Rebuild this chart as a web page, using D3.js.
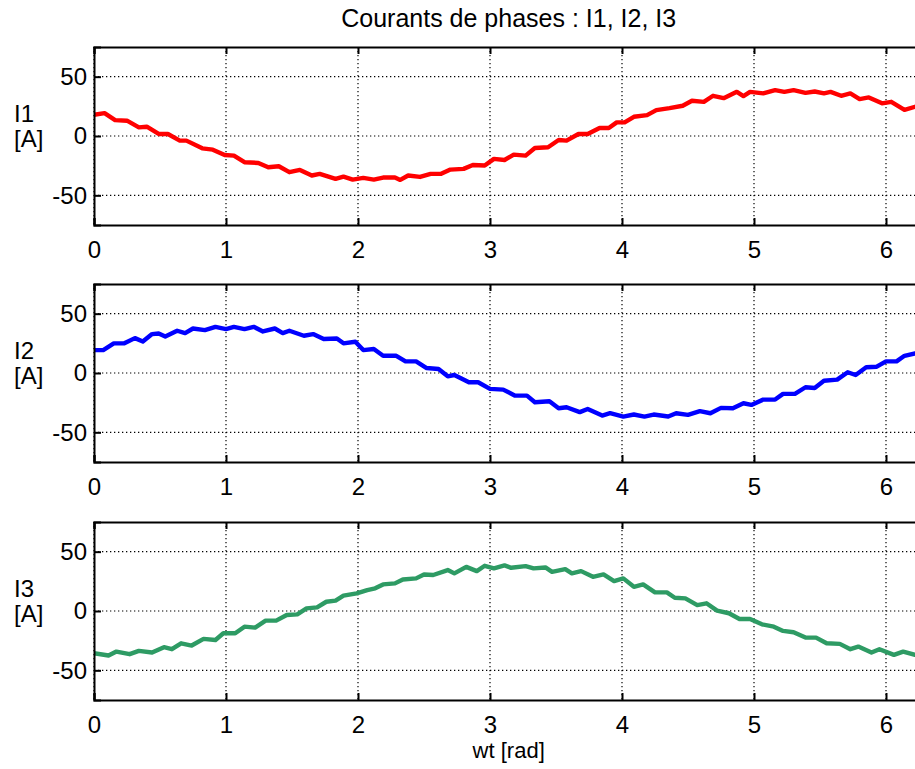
<!DOCTYPE html>
<html>
<head>
<meta charset="utf-8">
<script src="https://cdn.jsdelivr.net/npm/d3@7"></script>
<style>
  html, body { margin: 0; padding: 0; background: #fff; }
  svg { display: block; font-family: "Liberation Sans", Arial, Helvetica, sans-serif; }
</style>
</head>
<body>
<svg id="chart" width="915" height="769"></svg>
<script>
// ---- Data ----
const title = "Courants de phases : I1, I2, I3";
const xLabel = "wt [rad]";
const xTicks = [0, 1, 2, 3, 4, 5, 6];
const yTicks = [-50, 0, 50];
const seriesNames = ["I1", "I2", "I3"];
const unitLabel = "[A]";
const seriesColors = ["#ff0000", "#0000ff", "#2e9b64"];

const wt1 = [0.00,0.08,0.16,0.25,0.34,0.40,0.49,0.56,0.65,0.70,0.82,0.90,0.99,1.06,1.14,1.245,1.32,1.40,1.48,1.56,1.65,1.71,1.83,1.89,1.96,2.04,2.12,2.19,2.28,2.32,2.38,2.47,2.55,2.63,2.70,2.80,2.87,2.96,3.03,3.11,3.18,3.27,3.34,3.44,3.52,3.58,3.67,3.74,3.83,3.90,3.96,4.02,4.09,4.19,4.26,4.36,4.46,4.53,4.62,4.69,4.77,4.87,4.92,4.97,5.07,5.16,5.23,5.30,5.39,5.46,5.53,5.58,5.66,5.73,5.80,5.87,5.97,6.04,6.14,6.22,6.28];
const i1  = [17.9,19.3,13.4,12.9,7.3,7.8,1.7,1.7,-3.9,-3.9,-10.4,-11.5,-16.0,-16.5,-22.1,-22.7,-26.3,-25.5,-30.5,-28.6,-33.3,-31.9,-36.1,-34.2,-36.7,-35.3,-36.7,-35.0,-35.0,-37.0,-33.3,-34.5,-31.9,-31.9,-28.3,-27.7,-24.4,-24.9,-19.3,-20.2,-15.7,-16.5,-10.1,-9.5,-3.4,-3.9,1.7,1.7,6.7,6.7,11.5,11.5,16.2,17.6,21.8,23.5,25.5,29.7,28.8,33.9,31.9,37.2,33.6,37.2,35.9,38.7,37.2,38.7,36.4,37.5,35.9,37.2,33.9,35.9,31.1,32.5,27.5,28.8,22.1,24.6,24.0];

const wt2 = [0.00,0.07,0.15,0.23,0.31,0.37,0.44,0.49,0.54,0.63,0.69,0.75,0.84,0.92,1.00,1.06,1.14,1.21,1.28,1.37,1.43,1.48,1.59,1.66,1.74,1.84,1.89,1.98,2.04,2.12,2.19,2.29,2.36,2.44,2.52,2.61,2.68,2.73,2.84,2.91,3.00,3.10,3.19,3.28,3.34,3.45,3.52,3.58,3.68,3.74,3.85,3.91,4.01,4.09,4.17,4.24,4.35,4.41,4.50,4.59,4.67,4.75,4.84,4.92,4.98,5.07,5.16,5.22,5.31,5.39,5.46,5.53,5.63,5.71,5.77,5.85,5.93,6.00,6.08,6.14,6.22,6.28];
const i2  = [19.3,19.3,25.0,25.0,29.4,26.6,32.8,33.3,30.8,35.6,33.6,37.5,36.1,38.9,37.0,38.9,37.0,38.9,35.0,37.5,33.6,35.6,31.4,32.8,28.6,29.1,25.0,26.3,19.3,20.2,14.5,14.5,9.8,9.8,4.2,3.4,-2.8,-1.7,-7.8,-7.8,-13.4,-14.0,-19.1,-19.1,-24.6,-23.8,-29.7,-28.9,-33.0,-30.3,-35.9,-33.9,-36.7,-35.0,-36.7,-35.0,-36.7,-33.9,-35.3,-32.2,-33.9,-29.4,-29.7,-25.5,-26.9,-22.4,-22.4,-17.6,-17.6,-12.0,-12.6,-6.5,-5.6,0.6,-1.7,4.8,5.3,9.8,9.8,14.5,16.5,17.5];

const wt3 = [0.00,0.11,0.17,0.27,0.34,0.44,0.53,0.59,0.66,0.74,0.83,0.92,0.98,1.07,1.14,1.22,1.30,1.38,1.46,1.54,1.61,1.69,1.76,1.83,1.89,1.99,2.07,2.13,2.19,2.28,2.34,2.44,2.50,2.57,2.68,2.73,2.82,2.90,2.96,3.03,3.11,3.16,3.27,3.33,3.42,3.47,3.57,3.62,3.69,3.78,3.86,3.94,4.01,4.09,4.16,4.25,4.34,4.40,4.48,4.57,4.64,4.72,4.81,4.89,4.97,5.06,5.15,5.22,5.30,5.39,5.47,5.55,5.65,5.73,5.79,5.89,5.95,6.06,6.13,6.22,6.28];
const i3  = [-35.6,-37.5,-34.2,-36.4,-33.6,-35.0,-30.5,-32.2,-27.2,-29.1,-23.5,-24.4,-18.8,-18.8,-13.2,-14.0,-8.1,-8.1,-3.4,-2.8,2.2,3.1,7.8,8.7,12.9,14.9,17.6,19.1,22.4,23.3,26.6,27.5,30.8,30.3,34.5,31.7,37.2,33.6,38.1,35.9,38.4,36.4,37.8,35.9,36.7,33.0,35.3,31.7,33.6,28.8,30.8,25.2,27.5,20.4,22.4,15.7,15.7,11.2,10.6,5.0,6.5,0.3,-1.9,-6.7,-6.7,-11.2,-13.2,-16.8,-17.9,-22.4,-22.4,-27.2,-27.7,-32.2,-30.0,-35.0,-32.2,-37.0,-34.2,-37.0,-36.0];

const wtData = [wt1, wt2, wt3];
const iData = [i1, i2, i3];

// ---- Layout ----
const svg = d3.select("#chart");
const W = 915, H = 769;
const left = 94, pxPerUnit = 132;
const panelTops = [47, 284, 522];
const panelH = 178;
const fontFam = "'Liberation Sans', Arial, Helvetica, sans-serif";

const x = d3.scaleLinear().domain([0, 2 * Math.PI]).range([left, left + pxPerUnit * 2 * Math.PI]);

svg.append("rect").attr("width", W).attr("height", H).attr("fill", "#fff");

svg.append("text")
  .attr("x", (x.range()[0] + x.range()[1]) / 2)
  .attr("y", 27)
  .attr("text-anchor", "middle")
  .attr("font-size", 25)
  .attr("fill", "#000")
  .text(title);

panelTops.forEach((top, k) => {
  const y = d3.scaleLinear().domain([-75, 75]).range([top + panelH, top]);
  const g = svg.append("g");
  const x0 = x.range()[0], x1 = x.range()[1];

  const clipId = "clip" + k;
  svg.append("clipPath").attr("id", clipId)
    .append("rect").attr("x", x0).attr("y", top).attr("width", x1 - x0).attr("height", panelH);

  // grid
  g.append("g").selectAll("line").data(xTicks).join("line")
    .attr("x1", d => x(d)).attr("x2", d => x(d))
    .attr("y1", top).attr("y2", top + panelH)
    .attr("stroke", "#000").attr("stroke-width", 1.2).attr("stroke-dasharray", "1.3,2.7");
  g.append("g").selectAll("line").data(yTicks).join("line")
    .attr("x1", x0).attr("x2", x1)
    .attr("y1", d => y(d)).attr("y2", d => y(d))
    .attr("stroke", "#000").attr("stroke-width", 1.2).attr("stroke-dasharray", "1.3,2.7");

  // data line
  const pts = wtData[k].map((t, i) => [t, iData[k][i]]);
  const line = d3.line().x(d => x(d[0])).y(d => y(d[1]));
  g.append("path")
    .attr("clip-path", `url(#${clipId})`)
    .attr("d", line(pts))
    .attr("fill", "none")
    .attr("stroke", seriesColors[k])
    .attr("stroke-width", 4.4)
    .attr("stroke-linejoin", "round")
    .attr("stroke-linecap", "round");

  // axes with inner ticks
  const fmt = d => String(d);
  const axB = d3.axisBottom(x).tickValues(xTicks).tickSize(-7).tickPadding(16).tickFormat(fmt);
  const axT = d3.axisTop(x).tickValues(xTicks).tickSize(-7).tickFormat("");
  const axL = d3.axisLeft(y).tickValues(yTicks).tickSize(-7).tickPadding(7).tickFormat(fmt);

  const gb = g.append("g").attr("transform", `translate(0,${top + panelH})`).call(axB);
  const gt = g.append("g").attr("transform", `translate(0,${top})`).call(axT);
  const gl = g.append("g").attr("transform", `translate(${x0},0)`).call(axL);
  [gb, gt, gl].forEach(a => {
    a.select(".domain").attr("stroke", "#000").attr("stroke-width", 2);
    a.selectAll(".tick line").attr("stroke", "#000").attr("stroke-width", 2);
    a.selectAll(".tick text").attr("font-size", 24).attr("fill", "#000")
      .attr("font-family", fontFam);
  });

  // y label (two lines, left aligned)
  const lab = svg.append("text")
    .attr("x", 14).attr("y", top + 75)
    .attr("font-size", 24).attr("fill", "#000");
  lab.append("tspan").attr("x", 14).attr("dy", 0).text(seriesNames[k]);
  lab.append("tspan").attr("x", 14).attr("dy", 25).text(unitLabel);
});

svg.append("text")
  .attr("x", (x.range()[0] + x.range()[1]) / 2)
  .attr("y", 758)
  .attr("text-anchor", "middle")
  .attr("font-size", 22)
  .attr("fill", "#000")
  .text(xLabel);
</script>
</body>
</html>
